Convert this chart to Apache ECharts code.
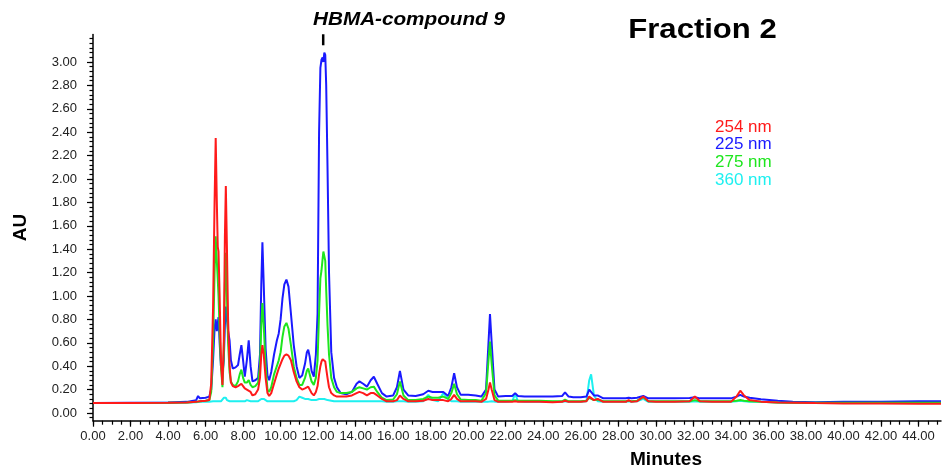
<!DOCTYPE html>
<html>
<head>
<meta charset="utf-8">
<script src="https://cdn.jsdelivr.net/npm/echarts@6/dist/echarts.min.js"></script>
<style>
  html, body { margin: 0; padding: 0; background: #ffffff; }
  #chart { width: 943px; height: 470px; }
</style>
</head>
<body>
<div id="chart"></div>
<script>
// Retention time (minutes) shared by all detector traces
const minutes = [
  0, 2, 4, 5, 5.5, 5.6, 5.7, 6.0, 6.2, 6.3,
  6.4, 6.48, 6.54, 6.6, 6.65, 6.69, 6.75, 6.82, 6.9, 6.97,
  7.03, 7.08, 7.14, 7.2, 7.28, 7.35, 7.45, 7.6, 7.73, 7.82,
  7.91, 8.0, 8.09, 8.2, 8.3, 8.4, 8.5, 8.65, 8.8, 8.9,
  8.97, 9.03, 9.1, 9.2, 9.3, 9.39, 9.5, 9.65, 9.8, 9.9,
  10.0, 10.1, 10.2, 10.31, 10.42, 10.55, 10.7, 10.85, 11.0, 11.15,
  11.3, 11.4, 11.47, 11.55, 11.65, 11.77, 11.88, 11.97, 12.05, 12.12,
  12.18, 12.24, 12.28, 12.33, 12.38, 12.43, 12.5, 12.58, 12.7, 12.85,
  13.0, 13.2, 13.5, 13.8, 14.05, 14.2, 14.4, 14.6, 14.8, 14.97,
  15.15, 15.4, 15.65, 16.0, 16.2, 16.36, 16.55, 16.8, 17.2, 17.6,
  17.87, 18.1, 18.4, 18.67, 18.93, 19.1, 19.25, 19.4, 19.6, 20.0,
  20.4, 20.7, 20.95, 21.08, 21.16, 21.25, 21.4, 21.6, 22.0, 22.35,
  22.5, 22.65, 23.0, 23.8, 24.5, 25.0, 25.16, 25.35, 25.6, 26.0,
  26.3, 26.45, 26.55, 26.7, 26.9, 27.2, 28.0, 28.4, 28.55, 28.7,
  29.0, 29.33, 29.6, 30.0, 31.0, 31.8, 32.08, 32.35, 33.0, 34.0,
  34.3, 34.5, 34.7, 35.0, 35.6, 36.5, 37.3, 38.5, 40, 42,
  44, 45.2
];

// Absorbance (AU) at 225 nm
const au225 = [
  .085, .088, .09, .095, .11, .145, .125, .13, .14, .2,
  .45, .72, .80, .70, .69, .82, .6, .4, .33, .45,
  .75, .91, .8, .7, .62, .45, .38, .39, .41, .5,
  .58, .45, .31, .45, .62, .4, .27, .28, .30, .5,
  1.1, 1.46, 1.1, .55, .32, .28, .35, .5, .62, .68,
  .8, .98, 1.1, 1.14, 1.08, .85, .58, .4, .3, .32,
  .42, .52, .54, .48, .36, .31, .5, .85, 2.4, 2.95,
  3.02, 3.04, 3.0, 3.08, 3.06, 2.8, 2.1, 1.2, .52, .3,
  .22, .17, .16, .18, .25, .27, .25, .225, .28, .31,
  .25, .17, .14, .15, .22, .36, .2, .15, .145, .16,
  .19, .18, .18, .18, .145, .22, .34, .22, .155, .155,
  .15, .14, .2, .6, .846, .6, .2, .14, .145, .145,
  .17, .145, .14, .14, .14, .145, .177, .14, .134, .135,
  .14, .2, .21, .15, .15, .125, .125, .125, .13, .125,
  .13, .145, .125, .125, .125, .128, .135, .125, .125, .125,
  .14, .155, .14, .13, .117, .105, .097, .092, .095, .097,
  .1, .1
];

// Absorbance (AU) at 254 nm
const au254 = [
  .085, .085, .087, .09, .095, .10, .10, .105, .11, .25,
  .9, 1.8, 2.35, 1.8, 1.42, 1.38, 1.0, .45, .24, .6,
  1.5, 1.94, 1.4, .8, .4, .26, .23, .22, .23, .24,
  .25, .23, .21, .2, .21, .18, .15, .16, .2, .3,
  .5, .58, .5, .3, .17, .145, .17, .25, .33, .38,
  .42, .46, .49, .50, .49, .45, .35, .27, .22, .2,
  .21, .22, .225, .21, .17, .15, .18, .23, .33, .40,
  .44, .46, .47, .47, .44, .38, .3, .22, .17, .15,
  .14, .14, .14, .15, .17, .18, .17, .15, .17, .17,
  .15, .12, .1, .1, .11, .15, .12, .1, .1, .105,
  .12, .11, .11, .11, .1, .12, .155, .12, .1, .1,
  .1, .095, .12, .2, .26, .2, .11, .095, .095, .095,
  .1, .095, .095, .095, .092, .095, .105, .095, .095, .095,
  .1, .14, .145, .11, .12, .095, .095, .095, .11, .095,
  .1, .14, .1, .095, .095, .1, .14, .1, .095, .095,
  .14, .19, .15, .11, .097, .09, .088, .085, .082, .08,
  .078, .078
];

// Absorbance (AU) at 275 nm
const au275 = [
  .085, .085, .087, .09, .095, .10, .10, .105, .11, .18,
  .6, 1.2, 1.51, 1.3, 1.14, 1.0, .7, .4, .22, .5,
  1.1, 1.37, 1.0, .6, .35, .27, .24, .23, .27, .33,
  .37, .3, .26, .26, .28, .24, .22, .23, .26, .4,
  .75, .94, .75, .4, .2, .18, .22, .33, .4, .45,
  .52, .65, .74, .77, .72, .58, .4, .3, .24, .24,
  .3, .36, .38, .33, .27, .24, .3, .45, .85, 1.15,
  1.22, 1.32, 1.38, 1.39, 1.3, 1.05, .75, .5, .3, .22,
  .18, .17, .17, .18, .21, .22, .21, .2, .22, .225,
  .18, .13, .11, .115, .16, .27, .15, .11, .11, .12,
  .14, .13, .13, .14, .12, .17, .25, .16, .115, .11,
  .11, .105, .17, .45, .61, .42, .15, .105, .105, .105,
  .11, .105, .105, .105, .1, .1, .115, .1, .1, .1,
  .105, .13, .14, .11, .115, .1, .1, .1, .105, .1,
  .105, .135, .1, .1, .1, .1, .11, .1, .1, .1,
  .105, .11, .105, .1, .095, .09, .088, .087, .087, .087,
  .087, .087
];

// Absorbance (AU) at 360 nm
const au360 = [
  .085, .085, .088, .09, .092, .095, .095, .095, .097, .1,
  .1, .1, .1, .1, .1, .1, .1, .1, .11, .13,
  .14, .13, .11, .1, .1, .1, .1, .1, .1, .1,
  .1, .1, .1, .11, .12, .1, .1, .1, .1, .11,
  .12, .13, .12, .11, .1, .1, .1, .1, .1, .1,
  .1, .1, .1, .1, .1, .1, .1, .11, .14, .13,
  .12, .12, .12, .115, .11, .11, .11, .115, .12, .12,
  .12, .12, .12, .12, .12, .115, .11, .11, .105, .1,
  .1, .1, .1, .1, .1, .1, .1, .1, .1, .1,
  .1, .1, .097, .097, .1, .1, .1, .097, .097, .1,
  .155, .11, .1, .17, .12, .1, .1, .1, .097, .097,
  .097, .097, .097, .097, .1, .1, .097, .095, .095, .1,
  .165, .1, .095, .095, .095, .095, .1, .095, .095, .095,
  .1, .28, .33, .15, .1, .095, .095, .095, .1, .095,
  .1, .12, .095, .095, .095, .095, .1, .095, .095, .095,
  .1, .105, .1, .097, .095, .09, .088, .087, .087, .087,
  .087, .087
];

// Axis ticks and labels
const minuteLabels = [0, 2, 4, 6, 8, 10, 12, 14, 16, 18, 20, 22, 24, 26, 28, 30, 32, 34, 36, 38, 40, 42, 44];
const auLabels = [0, 0.2, 0.4, 0.6, 0.8, 1.0, 1.2, 1.4, 1.6, 1.8, 2.0, 2.2, 2.4, 2.6, 2.8, 3.0];

const peakLabel = 'HBMA-compound 9';
const peakTime = 12.27;
const sampleTitle = 'Fraction 2';

const minuteMinor = [];
for (let k = 0; k <= 90; k++) minuteMinor.push(k * 0.5);
const auMinor = [];
for (let k = -1; k <= 80; k++) auMinor.push(Math.round(k * 4) / 100);

const pairs = (ys) => minutes.map((t, i) => [t, ys[i]]);

const FONT = '"Liberation Sans", Arial, Helvetica, sans-serif';
const X_MIN = 0, X_MAX = 45.2, Y_MIN = -0.066, Y_MAX = 3.235;

const chart = echarts.init(document.getElementById('chart'), null, { renderer: 'canvas' });

const lineSeries = (name, color, ys, z) => ({
  name: name,
  type: 'line',
  data: pairs(ys),
  showSymbol: false,
  symbol: 'none',
  smooth: false,
  z: z,
  lineStyle: { color: color, width: 2 },
  itemStyle: { color: color },
  emphasis: { disabled: true },
  animation: false
});

const blue = lineSeries('225 nm', '#1a1aff', au225, 3);
blue.markPoint = {
  symbol: 'rect',
  symbolSize: [2.5, 11],
  silent: true,
  label: { show: false },
  itemStyle: { color: '#000000' },
  data: [{ coord: [peakTime, 3.19] }]
};

const option = {
  backgroundColor: '#ffffff',
  animation: false,
  textStyle: { fontFamily: FONT },
  grid: { left: 93, right: 2, top: 34.5, bottom: 49.3, containLabel: false },
  legend: {
    orient: 'vertical',
    left: 705,
    top: 113,
    itemWidth: 0,
    itemHeight: 0,
    itemGap: 0,
    selectedMode: false,
    textStyle: { fontSize: 17, lineHeight: 17.7, fontFamily: FONT },
    data: [
      { name: '254 nm', icon: 'rect', textStyle: { color: '#ff1a1a' } },
      { name: '225 nm', icon: 'rect', textStyle: { color: '#1a1aff' } },
      { name: '275 nm', icon: 'rect', textStyle: { color: '#1ee61e' } },
      { name: '360 nm', icon: 'rect', textStyle: { color: '#1ef0f0' } }
    ]
  },
  xAxis: [
    {
      type: 'value',
      min: X_MIN,
      max: X_MAX,
      axisLine: { show: true, onZero: false, lineStyle: { color: '#000', width: 1.5 } },
      axisTick: { show: true, customValues: minuteLabels, length: 6, lineStyle: { color: '#000', width: 1.2 } },
      axisLabel: {
        show: true, customValues: minuteLabels, margin: 9,
        fontSize: 13, color: '#222', fontFamily: FONT,
        formatter: (v) => v.toFixed(2)
      },
      splitLine: { show: false }
    },
    {
      type: 'value',
      min: X_MIN,
      max: X_MAX,
      position: 'bottom',
      axisLine: { show: false, onZero: false },
      axisTick: { show: true, customValues: minuteMinor, length: 4, lineStyle: { color: '#000', width: 1.2 } },
      axisLabel: { show: false },
      splitLine: { show: false }
    }
  ],
  yAxis: [
    {
      type: 'value',
      min: Y_MIN,
      max: Y_MAX,
      name: 'AU',
      nameLocation: 'middle',
      nameRotate: 90,
      nameGap: 63,
      nameTextStyle: { fontSize: 19, fontWeight: 'bold', color: '#000', fontFamily: FONT },
      axisLine: { show: true, onZero: false, lineStyle: { color: '#000', width: 1.5 } },
      axisTick: { show: true, customValues: auLabels, length: 6, lineStyle: { color: '#000', width: 1.2 } },
      axisLabel: {
        show: true, customValues: auLabels, margin: 16,
        fontSize: 13, color: '#222', fontFamily: FONT,
        formatter: (v) => v.toFixed(2)
      },
      splitLine: { show: false }
    },
    {
      type: 'value',
      min: Y_MIN,
      max: Y_MAX,
      position: 'left',
      axisLine: { show: false, onZero: false },
      axisTick: { show: true, customValues: auMinor, length: 3.5, lineStyle: { color: '#000', width: 1.2 } },
      axisLabel: { show: false },
      splitLine: { show: false }
    }
  ],
  series: [
    lineSeries('360 nm', '#1ef0f0', au360, 2),
    blue,
    lineSeries('275 nm', '#1ee61e', au275, 4),
    lineSeries('254 nm', '#ff1a1a', au254, 5)
  ],
  graphic: [
    {
      type: 'text', x: 409, y: 20, scaleX: 1.15, silent: true,
      style: {
        text: peakLabel, fill: '#000', font: 'italic bold 18px ' + FONT,
        textAlign: 'center', textVerticalAlign: 'middle'
      }
    },
    {
      type: 'text', x: 702.5, y: 31, scaleX: 1.15, silent: true,
      style: {
        text: sampleTitle, fill: '#000', font: 'bold 27px ' + FONT,
        textAlign: 'center', textVerticalAlign: 'middle'
      }
    },
    {
      type: 'text', x: 666, y: 460, scaleX: 1.06, silent: true,
      style: {
        text: 'Minutes', fill: '#000', font: 'bold 18px ' + FONT,
        textAlign: 'center', textVerticalAlign: 'middle'
      }
    }
  ]
};

chart.setOption(option);
</script>
</body>
</html>
